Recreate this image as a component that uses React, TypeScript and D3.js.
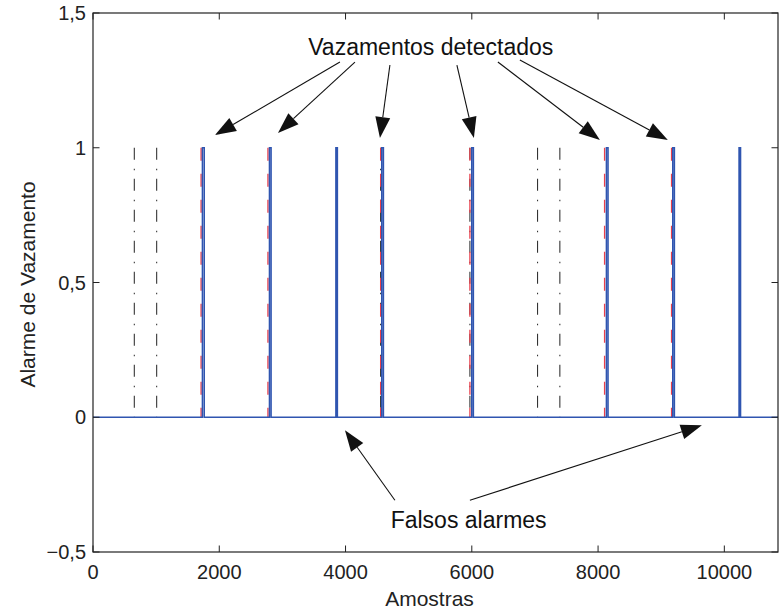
import React from "react";
import * as d3 from "d3";

// ---- data ----
const xTicks = [0, 2000, 4000, 6000, 8000, 10000];
const yTicks = [-0.5, 0, 0.5, 1, 1.5];
const yTickLabels = ["\u22120,5", "0", "0,5", "1", "1,5"];
const nSamples = 10850;
const leakRed = [1712, 2771, 4556, 5970, 8103, 9164];
const leakBlack = [654, 1009, 4556, 5970, 7042, 7395];
const alarmStart = [1733, 2795, 3847, 4574, 5999, 8132, 9183, 10233];
const alarmEnd = [1762, 2821, 3871, 4600, 6025, 8158, 9209, 10257];
const detTails: [number, number][] = [[3911, 1.318], [4149, 1.318], [4703, 1.307], [5764, 1.307], [6413, 1.318], [6762, 1.326]];
const detHeads: [number, number][] = [[1932, 1.047], [2930, 1.055], [4545, 1.036], [6033, 1.036], [8029, 1.029], [9105, 1.029]];
const falseTails: [number, number][] = [[4782, -0.308], [5970, -0.308]];
const falseHeads: [number, number][] = [[3991, -0.048], [9644, -0.03]];
const detLabel = "Vazamentos detectados";
const detLabelPos: [number, number] = [5350, 1.345];
const falseLabel = "Falsos alarmes";
const falseLabelPos: [number, number] = [5950, -0.41];

const W = 779, H = 612;
const L = 93, R = 778, T = 13, B = 552;
const FONT = "'Liberation Sans', Arial, Helvetica, sans-serif";

function Arrow({ x1, y1, x2, y2 }: { x1: number; y1: number; x2: number; y2: number }) {
  const a = Math.atan2(y2 - y1, x2 - x1);
  const len = 21, hw = 7.5;
  const bx = x2 - len * Math.cos(a), by = y2 - len * Math.sin(a);
  const px = -Math.sin(a), py = Math.cos(a);
  const pts = [[x2, y2], [bx + hw * px, by + hw * py], [bx - hw * px, by - hw * py]];
  return (
    <g>
      <line x1={x1} y1={y1} x2={bx} y2={by} stroke="#111" strokeWidth={1.1} />
      <polygon points={pts.map((p) => p.join(",")).join(" ")} fill="#111" />
    </g>
  );
}

export default function App() {
  const x = d3.scaleLinear().domain([0, nSamples]).range([L, R]);
  const y = d3.scaleLinear().domain([-0.5, 1.5]).range([B, T]);

  const pts: [number, number][] = [[0, 0]];
  alarmStart.forEach((s, i) => {
    pts.push([s, 0], [s, 1], [alarmEnd[i], 1], [alarmEnd[i], 0]);
  });
  pts.push([nSamples, 0]);
  const line = d3.line<[number, number]>().x((d) => x(d[0])).y((d) => y(d[1]));

  return (
    <svg width={W} height={H} style={{ position: "absolute", left: 0, top: 0, background: "#fff" }} fontFamily={FONT}>
      <rect x={0} y={0} width={W} height={H} fill="#fff" />
      {leakBlack.map((v, i) => (
        <line key={"b" + i} x1={x(v)} x2={x(v)} y1={y(1)} y2={y(0)} stroke="#222" strokeWidth={1} strokeDasharray="12,9,1.5,8.5" />
      ))}
      {leakRed.map((v, i) => (
        <line key={"r" + i} x1={x(v)} x2={x(v)} y1={y(1)} y2={y(0)} stroke="#e8404c" strokeWidth={1.3} strokeDasharray="13,13" />
      ))}
      <path d={line(pts) || ""} fill="none" stroke="#2f55b0" strokeWidth={1.5} />

      <rect x={L} y={T} width={R - L} height={B - T} fill="none" stroke="#222" strokeWidth={1.2} />
      {xTicks.map((t) => (
        <g key={"xt" + t}>
          <line x1={x(t)} x2={x(t)} y1={B} y2={B - 6.5} stroke="#222" />
          <line x1={x(t)} x2={x(t)} y1={T} y2={T + 6.5} stroke="#222" />
          <text x={x(t)} y={B + 27} fontSize={20} textAnchor="middle" fill="#222">{t}</text>
        </g>
      ))}
      {yTicks.map((t, i) => (
        <g key={"yt" + t}>
          <line x1={L} x2={L + 6.5} y1={y(t)} y2={y(t)} stroke="#222" />
          <line x1={R} x2={R - 6.5} y1={y(t)} y2={y(t)} stroke="#222" />
          <text x={L - 7} y={y(t)} dy="0.36em" fontSize={20} textAnchor="end" fill="#222">{yTickLabels[i]}</text>
        </g>
      ))}
      <text x={(L + R) / 2 - 6} y={606} fontSize={21} textAnchor="middle" fill="#222">Amostras</text>
      <text transform={`translate(35,${(T + B) / 2 + 2}) rotate(-90)`} fontSize={21} textAnchor="middle" fill="#222">Alarme de Vazamento</text>

      <text x={x(detLabelPos[0])} y={y(detLabelPos[1])} fontSize={23} textAnchor="middle" fill="#111">{detLabel}</text>
      {detTails.map((t, i) => (
        <Arrow key={"da" + i} x1={x(t[0])} y1={y(t[1])} x2={x(detHeads[i][0])} y2={y(detHeads[i][1])} />
      ))}
      <text x={x(falseLabelPos[0])} y={y(falseLabelPos[1])} fontSize={23} textAnchor="middle" fill="#111">{falseLabel}</text>
      {falseTails.map((t, i) => (
        <Arrow key={"fa" + i} x1={x(t[0])} y1={y(t[1])} x2={x(falseHeads[i][0])} y2={y(falseHeads[i][1])} />
      ))}
    </svg>
  );
}
